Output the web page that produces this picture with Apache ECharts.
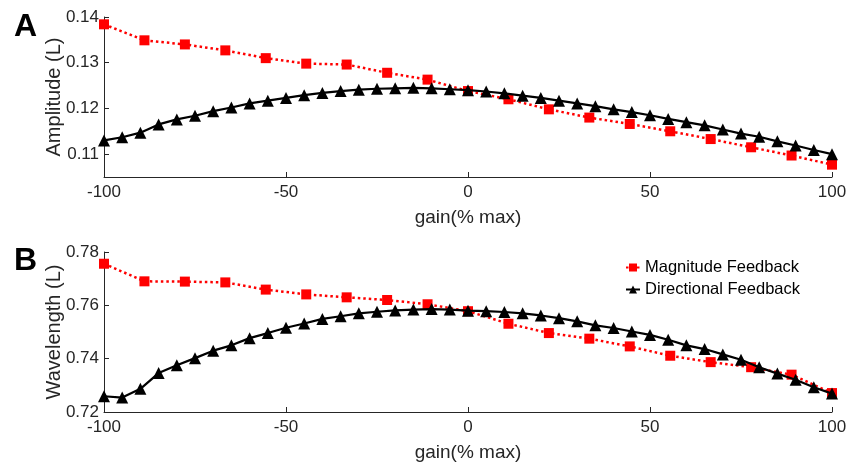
<!DOCTYPE html>
<html>
<head>
<meta charset="utf-8">
<script src="https://cdn.jsdelivr.net/npm/echarts@6/dist/echarts.min.js"></script>
<style>
  html, body { margin: 0; padding: 0; background: #fff; }
  #chart { width: 851px; height: 463px; }
</style>
</head>
<body>
<div id="chart"></div>
<script>
// gain values (% max)
const gainMag = [-100, -88.89, -77.78, -66.67, -55.56, -44.44, -33.33, -22.22, -11.11, 0,
  11.11, 22.22, 33.33, 44.44, 55.56, 66.67, 77.78, 88.89, 100]
const gainDir = [-100, -95, -90, -85, -80, -75, -70, -65, -60, -55, -50, -45, -40, -35, -30,
  -25, -20, -15, -10, -5, 0, 5, 10, 15, 20, 25, 30, 35, 40, 45, 50, 55, 60, 65, 70, 75, 80,
  85, 90, 95, 100]

// panel A: amplitude (L)
const ampMag = [0.1384, 0.1349, 0.1340, 0.1327, 0.1310, 0.1298, 0.1296, 0.1278, 0.1263, 0.1238,
  0.1220, 0.1198, 0.1180, 0.1166, 0.1150, 0.1133, 0.1115, 0.1097, 0.1077]
const ampDir = [0.1130, 0.1137, 0.1147, 0.1165, 0.1176, 0.1184, 0.1194, 0.1202, 0.1211, 0.1217,
  0.1223, 0.1229, 0.1234, 0.1238, 0.1241, 0.1243, 0.1244, 0.1245, 0.1244, 0.1242, 0.1240,
  0.1237, 0.1233, 0.1228, 0.1223, 0.1217, 0.1211, 0.1205, 0.1198, 0.1192, 0.1185, 0.1177,
  0.1170, 0.1163, 0.1154, 0.1145, 0.1138, 0.1128, 0.1119, 0.1109, 0.1100]

// panel B: wavelength (L)
const wavMag = [0.7756, 0.7690, 0.7689, 0.7686, 0.7659, 0.7641, 0.7630, 0.7620, 0.7604, 0.7578,
  0.7531, 0.7496, 0.7475, 0.7446, 0.7411, 0.7387, 0.7368, 0.7340, 0.7271]
const wavDir = [0.7259, 0.7254, 0.7287, 0.7346, 0.7375, 0.7402, 0.7430, 0.7450, 0.7477, 0.7496,
  0.7516, 0.7532, 0.7549, 0.7559, 0.7570, 0.7576, 0.7581, 0.7584, 0.7586, 0.7584, 0.7580,
  0.7578, 0.7575, 0.7570, 0.7562, 0.7552, 0.7540, 0.7525, 0.7515, 0.7502, 0.7489, 0.7471,
  0.7450, 0.7436, 0.7416, 0.7396, 0.7368, 0.7344, 0.7321, 0.7293, 0.7269]

const ampTicks = [0.11, 0.12, 0.13, 0.14]

const FONT = 'Liberation Sans'
const AXIS_COLOR = '#262626'

const pairs = (xs, ys) => xs.map((x, i) => [x, ys[i]])

const makeX = (gridIndex) => ({
  type: 'value',
  gridIndex: gridIndex,
  min: -100,
  max: 100,
  interval: 50,
  name: 'gain(% max)',
  nameLocation: 'middle',
  nameGap: 31,
  nameTextStyle: { fontFamily: FONT, fontSize: 19, color: AXIS_COLOR },
  axisLine: { show: true, onZero: false, lineStyle: { color: AXIS_COLOR, width: 1 } },
  axisTick: { show: true, inside: true, length: 5, lineStyle: { color: AXIS_COLOR } },
  axisLabel: { fontFamily: FONT, fontSize: 17, color: AXIS_COLOR, margin: 7 },
  splitLine: { show: false }
})

const makeY = (gridIndex, name) => ({
  type: 'value',
  gridIndex: gridIndex,
  name: name,
  nameLocation: 'middle',
  nameGap: 40,
  nameMoveOverlap: false,
  nameTextStyle: { fontFamily: FONT, fontSize: 20, color: AXIS_COLOR },
  axisLine: { show: true, onZero: false, lineStyle: { color: AXIS_COLOR, width: 1 } },
  axisTick: { show: true, inside: true, length: 5, lineStyle: { color: AXIS_COLOR } },
  axisLabel: { fontFamily: FONT, fontSize: 17, color: AXIS_COLOR, margin: 5 },
  splitLine: { show: false }
})

const magSeries = (idx, data) => ({
  name: 'Magnitude Feedback',
  type: 'line',
  xAxisIndex: idx,
  yAxisIndex: idx,
  data: data,
  symbol: 'rect',
  symbolSize: 10,
  showAllSymbol: true,
  itemStyle: { color: '#ff0000' },
  lineStyle: { color: '#ff0000', width: 2.5, type: [2.5, 3] },
  z: 2
})

const dirSeries = (idx, data) => ({
  name: 'Directional Feedback',
  type: 'line',
  xAxisIndex: idx,
  yAxisIndex: idx,
  data: data,
  symbol: 'triangle',
  symbolSize: 12,
  showAllSymbol: true,
  itemStyle: { color: '#000000' },
  lineStyle: { color: '#000000', width: 2.2 },
  z: 3
})

const chart = echarts.init(document.getElementById('chart'))

const yTop = makeY(0, 'Amplitude (L)')
yTop.min = 0.105
yTop.max = 0.14
yTop.axisLabel.customValues = ampTicks
yTop.axisTick.customValues = ampTicks

const yBottom = makeY(1, 'Wavelength (L)')
yBottom.min = 0.72
yBottom.max = 0.78
yBottom.interval = 0.02

chart.setOption({
  animation: false,
  backgroundColor: '#ffffff',
  grid: [
    { left: 104, right: 19, top: 17, height: 160 },
    { left: 104, right: 19, top: 252, height: 160 }
  ],
  xAxis: [makeX(0), makeX(1)],
  yAxis: [yTop, yBottom],
  legend: {
    data: ['Magnitude Feedback', 'Directional Feedback'],
    orient: 'vertical',
    left: 620,
    top: 254,
    itemWidth: 14,
    itemHeight: 10,
    itemGap: 5,
    textStyle: { fontFamily: FONT, fontSize: 16.5, color: '#000' }
  },
  graphic: [
    { type: 'text', left: 14, top: 11, style: { text: 'A', font: 'bold 32px "Liberation Sans"', fill: '#000' } },
    { type: 'text', left: 14, top: 245, style: { text: 'B', font: 'bold 32px "Liberation Sans"', fill: '#000' } }
  ],
  series: [
    magSeries(0, pairs(gainMag, ampMag)),
    dirSeries(0, pairs(gainDir, ampDir)),
    magSeries(1, pairs(gainMag, wavMag)),
    dirSeries(1, pairs(gainDir, wavDir))
  ]
})
</script>
</body>
</html>
